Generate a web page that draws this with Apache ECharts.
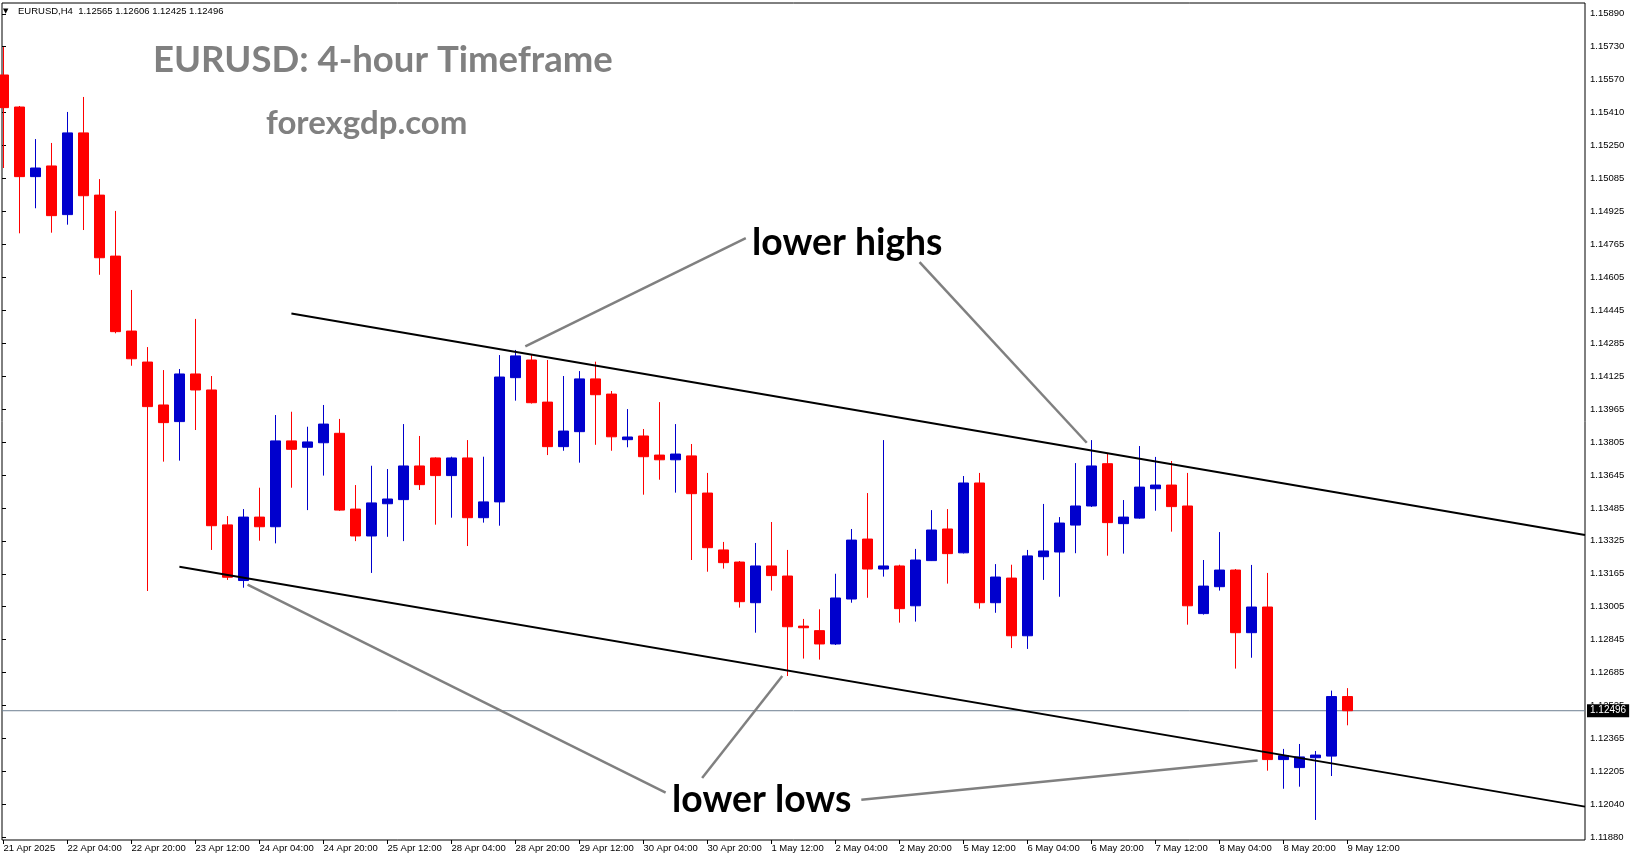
<!DOCTYPE html>
<html><head><meta charset="utf-8">
<script src="https://cdn.jsdelivr.net/npm/echarts@6/dist/echarts.min.js"></script>
<style>html,body{margin:0;padding:0;background:#fff;}#c{width:1631px;height:861px;}</style>
</head><body><div id="c"></div>
<script>
const symbolInfo = 'EURUSD,H4';
const opens  = [1.15592,1.15436,1.15097,1.15149,1.14912,1.15310,1.15007,1.14710,1.14345,1.14194,
  1.13985,1.13904,1.14136,1.14058,1.13401,1.13130,1.13439,1.13392,1.13810,1.13779,
  1.13801,1.13847,1.13478,1.13347,1.13504,1.13524,1.13688,1.13727,1.13641,1.13727,
  1.13436,1.13513,1.14118,1.14204,1.13999,1.13782,1.13855,1.14112,1.14038,1.13816,
  1.13834,1.13741,1.13718,1.13737,1.13556,1.13279,1.13220,1.13022,1.13201,1.13152,
  1.12908,1.12886,1.12821,1.13040,1.13332,1.13186,1.13201,1.13007,1.13227,1.13381,
  1.13265,1.13605,1.13022,1.13142,1.12861,1.13246,1.13269,1.13400,1.13493,1.13699,
  1.13407,1.13434,1.13577,1.13595,1.13493,1.12969,1.13100,1.13181,1.12876,1.13001,
  1.12258,1.12219,1.12267,1.12275,1.12565];
const highs  = [1.15728,1.15441,1.15280,1.15261,1.15412,1.15485,1.15085,1.14930,1.14545,1.14267,
  1.14155,1.14160,1.14404,1.14126,1.13444,1.13478,1.13582,1.13936,1.13952,1.13879,
  1.13985,1.13917,1.13595,1.13689,1.13673,1.13892,1.13834,1.13730,1.13733,1.13814,
  1.13733,1.14228,1.14253,1.14228,1.14204,1.14126,1.14150,1.14196,1.14053,1.13965,
  1.13868,1.13999,1.13892,1.13795,1.13654,1.13318,1.13225,1.13313,1.13415,1.13279,
  1.12943,1.12990,1.13163,1.13381,1.13556,1.13814,1.13207,1.13284,1.13473,1.13478,
  1.13639,1.13654,1.13210,1.13207,1.13279,1.13503,1.13439,1.13702,1.13814,1.13751,
  1.13522,1.13785,1.13732,1.13712,1.13654,1.13230,1.13366,1.13186,1.13206,1.13167,
  1.12310,1.12334,1.12300,1.12594,1.12606];
const lows   = [1.15139,1.14821,1.14943,1.14824,1.14863,1.14837,1.14619,1.14334,1.14176,1.13079,
  1.13709,1.13714,1.13863,1.13279,1.13133,1.13095,1.13324,1.13311,1.13582,1.13473,
  1.13641,1.13469,1.13322,1.13167,1.13343,1.13322,1.13571,1.13402,1.13436,1.13298,
  1.13412,1.13397,1.14006,1.13992,1.13741,1.13762,1.13704,1.13791,1.13762,1.13779,
  1.13548,1.13621,1.13558,1.13230,1.13173,1.13188,1.12998,1.12876,1.13081,1.12665,
  1.12750,1.12745,1.12816,1.13022,1.13046,1.13149,1.12925,1.12930,1.13225,1.13115,
  1.13262,1.12993,1.12973,1.12801,1.12797,1.13133,1.13051,1.13263,1.13488,1.13251,
  1.13261,1.13431,1.13470,1.13368,1.12915,1.12964,1.13081,1.12701,1.12754,1.12204,
  1.12116,1.12126,1.11964,1.12178,1.12425];
const closes = [1.15433,1.15097,1.15139,1.14907,1.15310,1.15004,1.14702,1.14342,1.14210,1.13977,
  1.13899,1.14136,1.14058,1.13397,1.13146,1.13439,1.13392,1.13810,1.13769,1.13805,
  1.13892,1.13473,1.13347,1.13508,1.13527,1.13688,1.13597,1.13641,1.13727,1.13436,
  1.13513,1.14121,1.14224,1.13996,1.13782,1.13858,1.14112,1.14035,1.13830,1.13829,
  1.13733,1.13718,1.13746,1.13553,1.13290,1.13217,1.13027,1.13201,1.13154,1.12905,
  1.12900,1.12821,1.13045,1.13327,1.13186,1.13201,1.12993,1.13230,1.13376,1.13261,
  1.13605,1.13022,1.13147,1.12861,1.13250,1.13274,1.13410,1.13493,1.13688,1.13412,
  1.13439,1.13585,1.13595,1.13490,1.13007,1.13103,1.13181,1.12876,1.13001,1.12258,
  1.12277,1.12271,1.12280,1.12565,1.12496];
const xTickLabels = ['21 Apr 2025','22 Apr 04:00','22 Apr 20:00','23 Apr 12:00','24 Apr 04:00','24 Apr 20:00',
  '25 Apr 12:00','28 Apr 04:00','28 Apr 20:00','29 Apr 12:00','30 Apr 04:00','30 Apr 20:00','1 May 12:00',
  '2 May 04:00','2 May 20:00','5 May 12:00','6 May 04:00','6 May 20:00','7 May 12:00','8 May 04:00',
  '8 May 20:00','9 May 12:00'];
const yTickLabels = ['1.11880','1.12040','1.12205','1.12365','1.12525','1.12685','1.12845','1.13005',
  '1.13165','1.13325','1.13485','1.13645','1.13805','1.13965','1.14125','1.14285','1.14445','1.14605',
  '1.14765','1.14925','1.15085','1.15250','1.15410','1.15570','1.15730','1.15890'];
const upperTrend = [[18, 1.14430], [98.85, 1.13352]];
const lowerTrend = [[11, 1.13197], [98.85, 1.12029]];
const connectors = [
  [[32.62, 1.14270], [46.40, 1.14797]],
  [[57.26, 1.14681], [67.71, 1.13801]],
  [[15.26, 1.13110], [41.39, 1.12097]],
  [[43.67, 1.12168], [48.68, 1.12665]],
  [[53.62, 1.12062], [78.39, 1.12253]]
];

const X_MIN = -0.0875, X_MAX = 98.85;
const N = opens.length;
const rows = opens.map((o, i) => [i, o, closes[i], lows[i], highs[i]]);
const lastPrice = closes[N - 1];
const header = symbolInfo + '  ' + [opens[N-1], highs[N-1], lows[N-1], closes[N-1]].map(v => v.toFixed(5)).join(' ');

const axFont = 'Liberation Sans';
const chart = echarts.init(document.getElementById('c'), null, {renderer: 'canvas'});
const series = [
  {type: 'line', xAxisIndex: 0, yAxisIndex: 0, data: [[X_MIN, lastPrice], [X_MAX, lastPrice]],
    symbol: 'none', silent: true, z: 1, clip: false,
    lineStyle: {color: '#6E7F91', width: 1},
    endLabel: {show: true, distance: 2, formatter: lastPrice.toFixed(5), color: '#fff',
      backgroundColor: '#000', padding: [2, 3, 1, 3], fontFamily: axFont, fontSize: 10}},
  {
    type: 'candlestick', xAxisIndex: 0, yAxisIndex: 0, data: rows, barWidth: 10, z: 2,
    itemStyle: {color: '#0000CD', color0: '#FF0000', borderColor: '#0000CD', borderColor0: '#FF0000', borderWidth: 1}
  },
  {type: 'line', xAxisIndex: 0, yAxisIndex: 0, data: upperTrend, symbol: 'none', silent: true, z: 5,
    lineStyle: {color: '#000', width: 2}},
  {type: 'line', xAxisIndex: 0, yAxisIndex: 0, data: lowerTrend, symbol: 'none', silent: true, z: 5,
    lineStyle: {color: '#000', width: 2}}
];
connectors.forEach(seg => series.push({type: 'line', xAxisIndex: 0, yAxisIndex: 0, data: seg, symbol: 'none',
  silent: true, z: 4, lineStyle: {color: '#808080', width: 2.5}}));

const option = {
  animation: false,
  backgroundColor: '#fff',
  grid: [
    {left: 2, right: 46, top: 3, bottom: 21, show: true, borderColor: '#000', borderWidth: 1, backgroundColor: 'transparent'},
    {left: 3.4, width: 1344, top: 3, bottom: 21, show: false},
    {left: 2, right: 46, top: 13.8, bottom: 23.7, show: false}
  ],
  xAxis: [
    {type: 'value', gridIndex: 0, min: X_MIN, max: X_MAX, show: false},
    {type: 'value', gridIndex: 1, min: 0, max: 84, interval: 4,
      axisLine: {show: false}, splitLine: {show: false},
      axisTick: {show: true, length: 4, lineStyle: {color: '#000'}},
      axisLabel: {show: true, align: 'left', margin: 3, color: '#000', fontFamily: axFont, fontSize: 9.5,
        formatter: v => xTickLabels[Math.round(v / 4)] || ''}},
    {type: 'value', gridIndex: 2, min: 0, max: 1, show: false}
  ],
  yAxis: [
    {type: 'value', gridIndex: 0, min: 1.118664, max: 1.159426, show: false, scale: true},
    {type: 'value', gridIndex: 1, show: false},
    {type: 'value', gridIndex: 2, position: 'right', min: 0, max: 25, interval: 1,
      axisLine: {show: false}, splitLine: {show: false},
      axisTick: {show: true, length: 4, lineStyle: {color: '#000'}},
      axisLabel: {show: true, margin: 5, color: '#000', fontFamily: axFont, fontSize: 9.5,
        formatter: v => yTickLabels[Math.round(v)] || ''}}
  ],
  graphic: [
    {type: 'text', silent: true, style: {x: 3, y: 11, text: '▼', fill: '#000', font: '7px "DejaVu Sans"', verticalAlign: 'middle'}},
    {type: 'text', silent: true, style: {x: 18, y: 11, text: header, fill: '#000', font: '9.5px "Liberation Sans"', verticalAlign: 'middle'}},
    {type: 'text', silent: true, style: {x: 153, y: 60, text: 'EURUSD: 4-hour Timeframe', fill: '#808080', font: 'bold 36.5px Lato', verticalAlign: 'middle'}},
    {type: 'text', silent: true, style: {x: 266, y: 123, text: 'forexgdp.com', fill: '#808080', font: 'bold 33px Lato', verticalAlign: 'middle'}},
    {type: 'text', silent: true, style: {x: 752, y: 243, text: 'lower highs', fill: '#000', font: 'bold 37.3px Lato', verticalAlign: 'middle'}},
    {type: 'text', silent: true, style: {x: 672, y: 800, text: 'lower lows', fill: '#000', font: 'bold 37.3px Lato', verticalAlign: 'middle'}}
  ],
  series: series
};
chart.setOption(option);
</script>
</body></html>
